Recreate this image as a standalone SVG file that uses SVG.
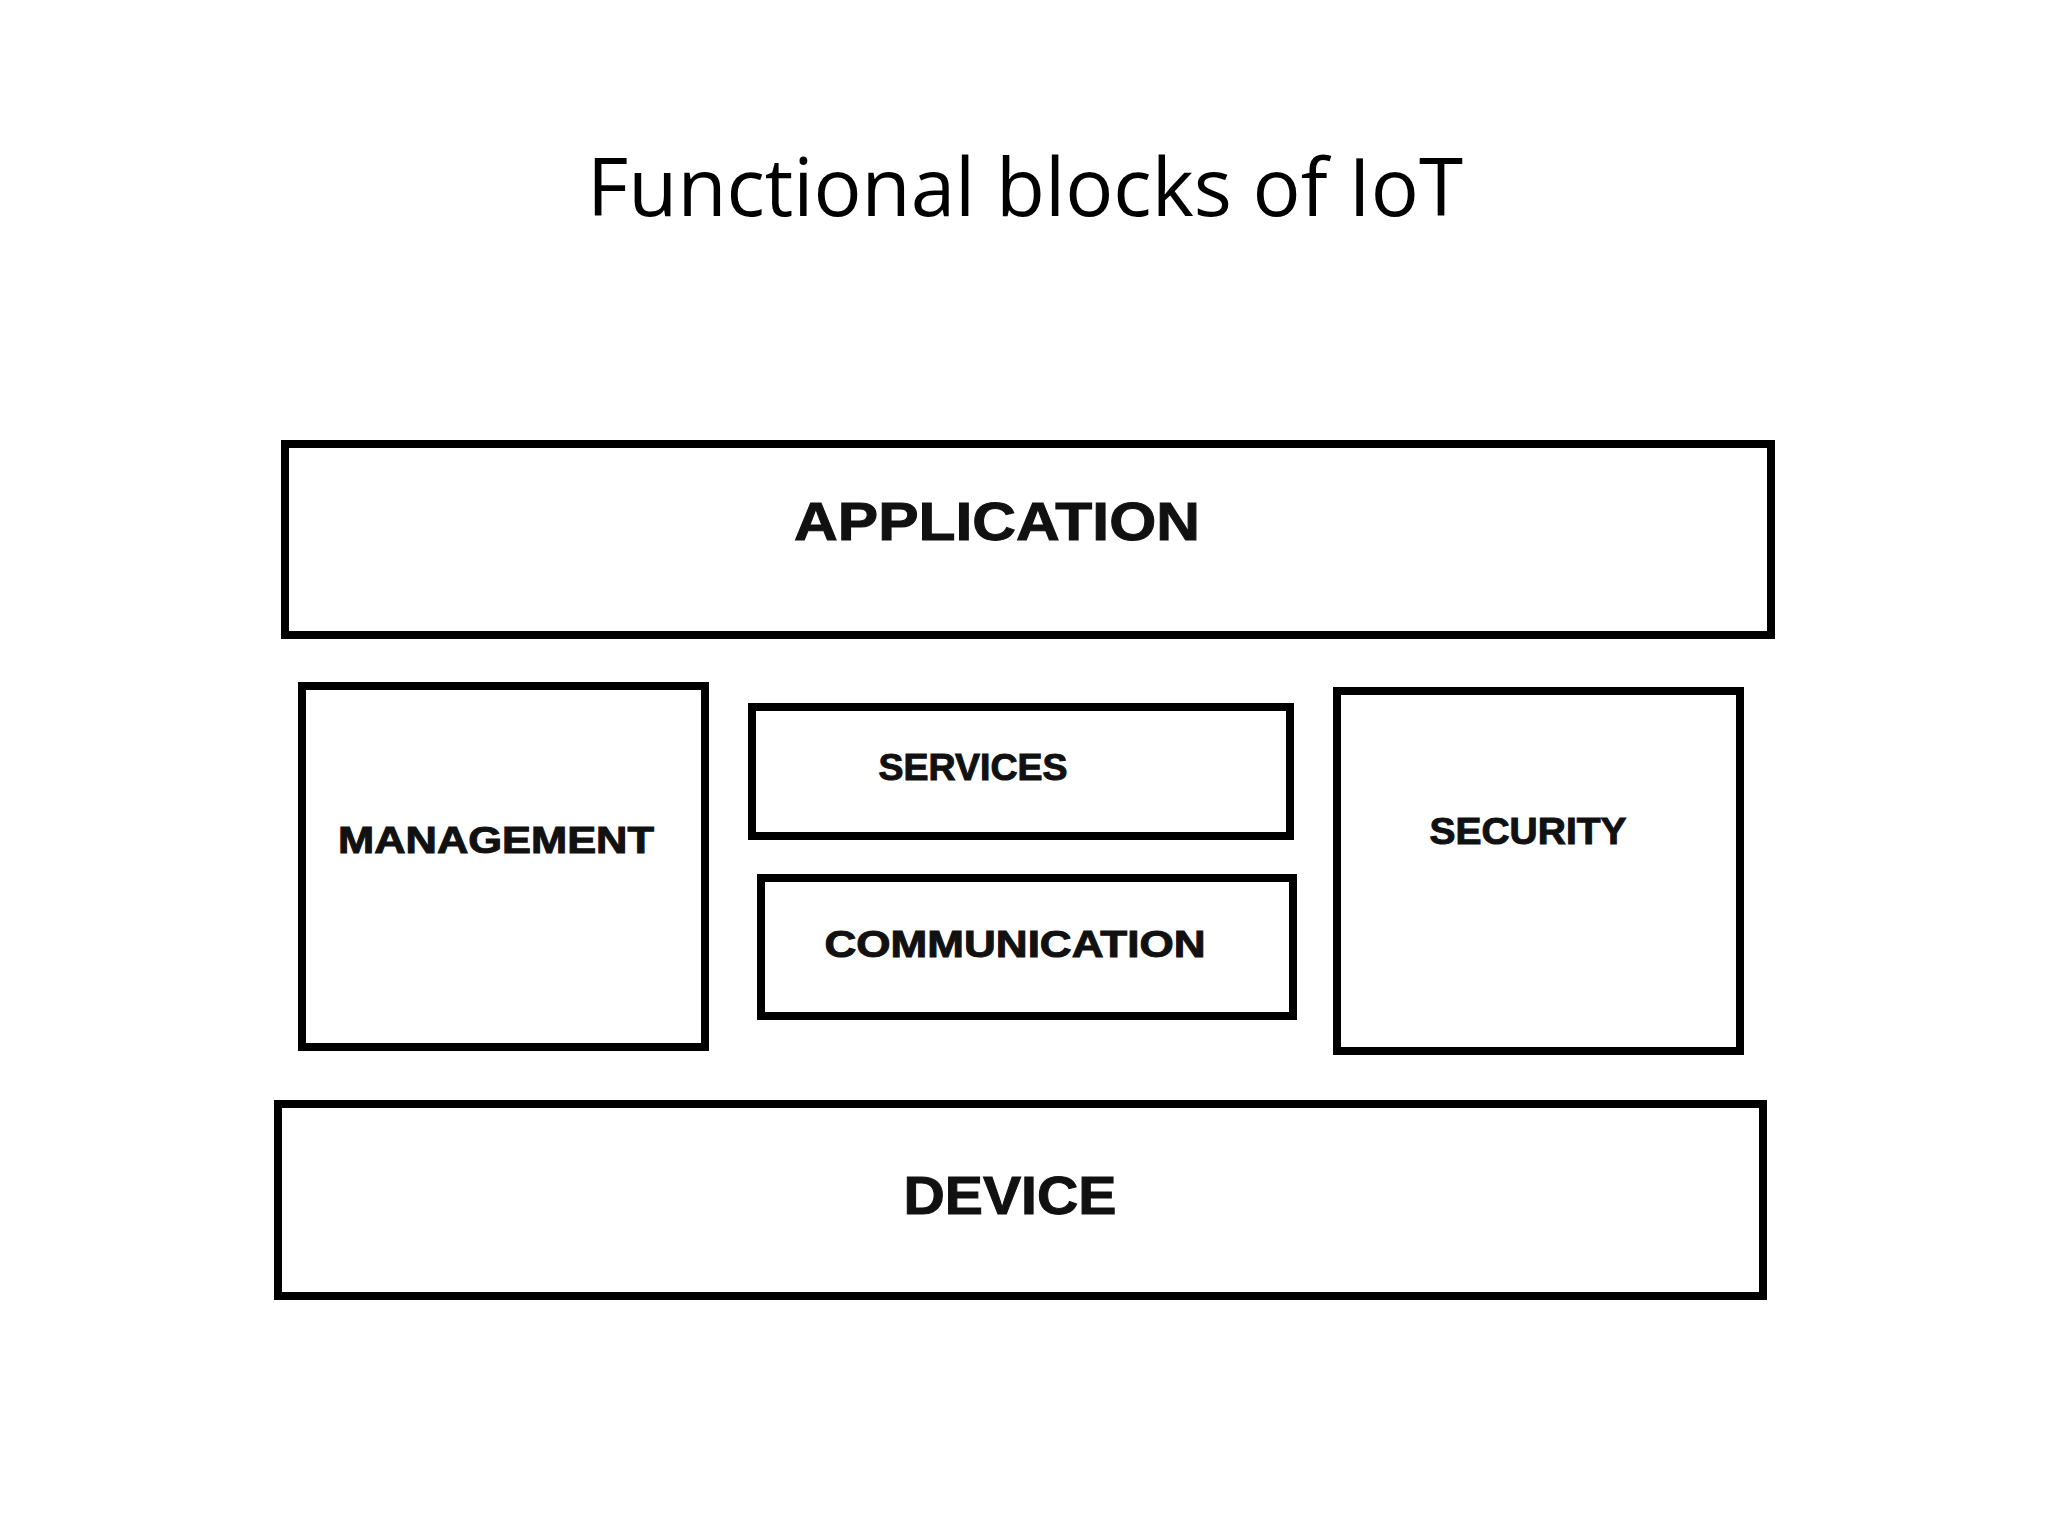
<svg xmlns="http://www.w3.org/2000/svg" width="2048" height="1536" viewBox="0 0 2048 1536">
<style>
.b{fill:none;stroke:#000;stroke-width:8}
.t{font-family:"Liberation Sans",Arial,sans-serif;font-weight:bold;text-anchor:middle;fill:#111;stroke:#111;stroke-width:1}
</style>
<rect width="2048" height="1536" fill="#fff"/>
<text x="1025" y="216" font-family="Open Sans, Noto Sans, sans-serif" font-size="80" text-anchor="middle" fill="#000">Functional blocks of IoT</text>
<g id="application"><rect class="b" x="285" y="444" width="1486" height="191"/><text class="t" x="997" y="540" font-size="54" textLength="406" lengthAdjust="spacingAndGlyphs">APPLICATION</text></g>
<g id="management"><rect class="b" x="302" y="686" width="403" height="361"/><text class="t" x="496" y="853" font-size="37" textLength="316" lengthAdjust="spacingAndGlyphs">MANAGEMENT</text></g>
<g id="services"><rect class="b" x="752" y="707" width="538" height="129"/><text class="t" x="973" y="780" font-size="37" textLength="189" lengthAdjust="spacingAndGlyphs">SERVICES</text></g>
<g id="communication"><rect class="b" x="761" y="878" width="532" height="138"/><text class="t" x="1015" y="957" font-size="37" textLength="381" lengthAdjust="spacingAndGlyphs">COMMUNICATION</text></g>
<g id="security"><rect class="b" x="1337" y="691" width="403" height="360"/><text class="t" x="1528" y="844" font-size="37" textLength="197" lengthAdjust="spacingAndGlyphs">SECURITY</text></g>
<g id="device"><rect class="b" x="278" y="1104" width="1485" height="192"/><text class="t" x="1010" y="1214" font-size="54" textLength="213" lengthAdjust="spacingAndGlyphs">DEVICE</text></g>
<g id="connectors"></g>
</svg>
